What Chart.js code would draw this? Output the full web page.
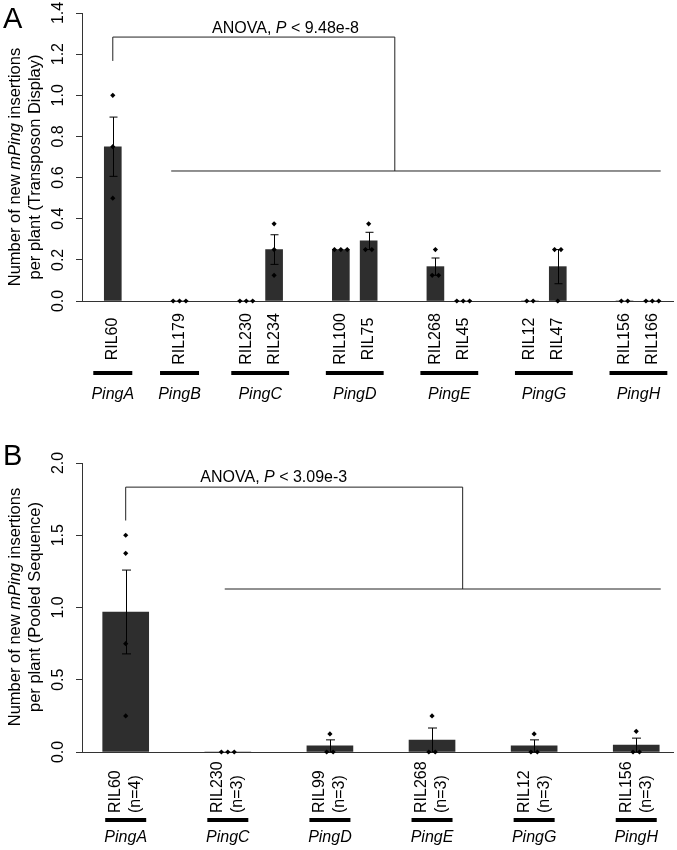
<!DOCTYPE html>
<html>
<head>
<meta charset="utf-8">
<script src="https://cdn.jsdelivr.net/npm/chart.js@4.4.1/dist/chart.umd.min.js"></script>
<style>
  body { margin: 0; background: #fff; }
  canvas { display: block; }
</style>
</head>
<body>
<canvas id="chartA" width="677" height="440" style="width:677px;height:440px"></canvas>
<canvas id="chartB" width="677" height="410" style="width:677px;height:410px"></canvas>
<script>
// Panel A - Transposon Display
var groupsA = ['PingA', 'PingB', 'PingC', 'PingD', 'PingE', 'PingG', 'PingH'];
var rilsA = [['RIL60'], ['RIL179'], ['RIL230', 'RIL234'], ['RIL100', 'RIL75'],
             ['RIL268', 'RIL45'], ['RIL12', 'RIL47'], ['RIL156', 'RIL166']];
var meanA = [0.75, 0, 0, 0.25, 0.25, 0.292, 0.167, 0, 0, 0.167, 0, 0];
var seA = [0.144, 0, 0, 0.072, 0, 0.042, 0.042, 0, 0, 0.083, 0, 0];
var plantsA = [[1, 0.75, 0.5], [0, 0, 0], [0, 0, 0], [0.375, 0.25, 0.125],
               [0.25, 0.25, 0.25], [0.375, 0.25, 0.25], [0.25, 0.125, 0.125], [0, 0, 0],
               [0, 0], [0.25, 0.25, 0], [0, 0], [0, 0, 0]];
var ticksA = [0, 0.2, 0.4, 0.6, 0.8, 1.0, 1.2, 1.4];

// Panel B - Pooled Sequence
var groupsB = ['PingA', 'PingC', 'PingD', 'PingE', 'PingG', 'PingH'];
var rilsB = ['RIL60', 'RIL230', 'RIL99', 'RIL268', 'RIL12', 'RIL156'];
var sizesB = ['(n=4)', '(n=3)', '(n=3)', '(n=3)', '(n=3)', '(n=3)'];
var meanB = [0.969, 0, 0.042, 0.083, 0.042, 0.048];
var seB = [0.29, 0, 0.042, 0.083, 0.042, 0.048];
var plantsB = [[1.5, 1.375, 0.75, 0.25], [0, 0, 0], [0.125, 0, 0], [0.25, 0, 0], [0.125, 0, 0], [0.143, 0, 0]];
var ticksB = [0, 0.5, 1.0, 1.5, 2.0];

var FONT = '"Liberation Sans", Arial, Helvetica, sans-serif';
Chart.defaults.font.family = FONT;
Chart.defaults.color = '#000';

// bar positions: 1 unit between members of a group, `gap` between groups
function groupPositions(groups, gap) {
  var pos = [], spans = [], p = -gap;
  groups.forEach(function (g) {
    p += gap;
    var start = p;
    g.forEach(function (r, i) { if (i) p += 1; pos.push(p); });
    spans.push([start, p]);
  });
  return { pos: pos, spans: spans };
}

// plants with the same value sit side by side
function dotPoints(pos, plants, step) {
  var pts = [];
  plants.forEach(function (vals, i) {
    var counts = {}, seen = {};
    vals.forEach(function (v) { counts[v] = (counts[v] || 0) + 1; });
    vals.forEach(function (v) {
      var k = counts[v], j = seen[v] || 0;
      seen[v] = j + 1;
      pts.push({ x: pos[i] + (j - (k - 1) / 2) * step, y: v });
    });
  });
  return pts;
}

function richText(ctx, parts, x, y, size) {
  var total = 0;
  parts.forEach(function (p) {
    ctx.font = (p[1] ? 'italic ' : '') + size + 'px ' + FONT;
    total += ctx.measureText(p[0]).width;
  });
  var cx = x - total / 2;
  ctx.textAlign = 'left';
  parts.forEach(function (p) {
    ctx.font = (p[1] ? 'italic ' : '') + size + 'px ' + FONT;
    ctx.fillText(p[0], cx, y);
    cx += ctx.measureText(p[0]).width;
  });
}

function decorations(p) {
  return {
    id: 'deco',
    afterDraw: function (chart) {
      var ctx = chart.ctx;
      var X = function (v) { return chart.scales.x.getPixelForValue(v); };
      var Y = function (v) { return chart.scales.y.getPixelForValue(v); };
      ctx.save();
      ctx.fillStyle = '#000';
      ctx.strokeStyle = '#000';
      ctx.lineWidth = 1;

      // error bars (mean +/- se)
      p.pos.forEach(function (x, i) {
        if (!p.se[i]) return;
        var px = Math.round(X(x)) + 0.5;
        var t = Y(p.mean[i] + p.se[i]), b = Y(p.mean[i] - p.se[i]);
        ctx.beginPath();
        ctx.moveTo(px, t); ctx.lineTo(px, b);
        ctx.moveTo(px - p.cap, t); ctx.lineTo(px + p.cap, t);
        ctx.moveTo(px - p.cap, b); ctx.lineTo(px + p.cap, b);
        ctx.stroke();
      });

      // ANOVA bracket
      var k = p.bracket;
      ctx.strokeStyle = '#222';
      ctx.beginPath();
      ctx.moveTo(X(k.x1), Y(k.y1));
      ctx.lineTo(X(k.x1), Y(k.top));
      ctx.lineTo(X(k.x2), Y(k.top));
      ctx.lineTo(X(k.x2), Y(k.y2));
      ctx.moveTo(X(k.base[0]), Y(k.y2));
      ctx.lineTo(X(k.base[1]), Y(k.y2));
      ctx.stroke();
      ctx.textBaseline = 'alphabetic';
      richText(ctx, [['ANOVA, ', 0], ['P', 1], [' < ' + k.label, 0]], X(k.textX), Y(k.textY), 16);

      // y axis title
      ctx.textBaseline = 'middle';
      p.yTitle.forEach(function (line, i) {
        ctx.save();
        ctx.translate(15 + i * 20, p.titleY);
        ctx.rotate(-Math.PI / 2);
        richText(ctx, line, 0, 0, p.titleSize);
        ctx.restore();
      });

      // category labels, group underlines and group names
      p.labels.forEach(function (lines, i) {
        var px = X(p.pos[i]);
        lines.forEach(function (txt, j) {
          ctx.save();
          ctx.translate(px + (j - (lines.length - 1) / 2) * 20, p.labelY);
          ctx.rotate(-Math.PI / 2);
          ctx.textAlign = p.labelAlign;
          ctx.font = '16px ' + FONT;
          ctx.fillText(txt, 0, 0);
          ctx.restore();
        });
      });
      p.spans.forEach(function (s, i) {
        var ext = s[0] === s[1] ? p.extSingle : p.extPair;
        var a = X(s[0]) - ext, b = X(s[1]) + ext;
        ctx.fillRect(a, p.lineY - 2, b - a, 4);
        ctx.font = 'italic 16px ' + FONT;
        ctx.textAlign = 'center';
        ctx.fillText(p.groups[i], (a + b) / 2, p.groupY);
      });

      // panel letter
      ctx.font = '29px ' + FONT;
      ctx.textAlign = 'left';
      ctx.textBaseline = 'alphabetic';
      ctx.fillText(p.letter, 3, p.letterY);
      ctx.restore();
    }
  };
}

function panel(id, p) {
  return new Chart(document.getElementById(id), {
    type: 'bar',
    data: {
      datasets: [{
        type: 'scatter',
        data: dotPoints(p.pos, p.plants, p.jitter),
        pointStyle: 'rectRot',
        radius: 2.6,
        backgroundColor: '#000',
        borderWidth: 0,
        clip: false,
        order: 1
      }, {
        data: p.pos.map(function (x, i) { return { x: x, y: p.mean[i] }; }),
        backgroundColor: '#2e2e2e',
        borderWidth: 0,
        barThickness: p.barWidth,
        order: 2
      }]
    },
    options: {
      responsive: false,
      animation: false,
      layout: { padding: { top: p.top, left: 0, right: 0, bottom: 0 } },
      plugins: { legend: { display: false }, tooltip: { enabled: false } },
      scales: {
        x: {
          type: 'linear', min: p.xMin, max: p.xMax, offset: false,
          afterFit: function (s) { s.height = p.axisH; s.paddingLeft = 0; s.paddingRight = 0; },
          border: { display: true, color: '#333', width: 1 },
          grid: { display: false, offset: false },
          ticks: { display: false }
        },
        y: {
          min: 0, max: p.ticks[p.ticks.length - 1],
          afterBuildTicks: function (s) { s.ticks = p.ticks.map(function (v) { return { value: v }; }); },
          afterFit: function (s) { s.width = 82; s.paddingTop = 0; s.paddingBottom = 0; },
          border: { display: true, color: '#333', width: 1 },
          grid: { display: true, drawOnChartArea: false, drawTicks: true, tickLength: 6, color: '#333' },
          ticks: {
            autoSkip: false, minRotation: 90, maxRotation: 90, crossAlign: 'center', padding: 6,
            color: '#000', font: { size: 16 },
            callback: function (v) { return Number(v).toFixed(1); }
          }
        }
      }
    },
    plugins: [decorations(p)]
  });
}

var layoutA = groupPositions(rilsA, 2.4);
panel('chartA', {
  pos: layoutA.pos, spans: layoutA.spans, groups: groupsA,
  labels: [].concat.apply([], rilsA).map(function (r) { return [r]; }),
  mean: meanA, se: seA, plants: plantsA, ticks: ticksA,
  xMin: -1.107, xMax: 20.143, top: 13, axisH: 139,
  barWidth: 17, jitter: 0.23, cap: 4,
  bracket: { x1: 0, x2: 10.14, top: 1.283, y1: 1.167, y2: 0.632, base: [2.1, 19.7],
             textX: 6.21, textY: 1.303, label: '9.48e-8' },
  yTitle: [[['Number of new ', 0], ['mPing', 1], [' insertions', 0]],
           [['per plant (Transposon Display)', 0]]],
  titleY: 167, titleSize: 16.5,
  labelY: 339, labelAlign: 'center', lineY: 373, groupY: 395,
  extSingle: 19.5, extPair: 15,
  letter: 'A', letterY: 28
});

var layoutB = groupPositions(rilsB.map(function (r) { return [r]; }), 1);
panel('chartB', {
  pos: layoutB.pos, spans: layoutB.spans, groups: groupsB,
  labels: rilsB.map(function (r, i) { return [r, sizesB[i]]; }),
  mean: meanB, se: seB, plants: plantsB, ticks: ticksB,
  xMin: -0.428, xMax: 5.36, top: 23, axisH: 98,
  barWidth: 46, jitter: 0.063, cap: 4.5,
  bracket: { x1: 0, x2: 3.3, top: 1.833, y1: 1.602, y2: 1.128, base: [0.97, 5.24],
             textX: 1.45, textY: 1.871, label: '3.09e-3' },
  yTitle: [[['Number of new ', 0], ['mPing', 1], [' insertions', 0]],
           [['per plant (Pooled Sequence)', 0]]],
  titleY: 167, titleSize: 16.5,
  labelY: 373, labelAlign: 'left', lineY: 380, groupY: 398,
  extSingle: 20.5, extPair: 20.5,
  letter: 'B', letterY: 25
});
</script>
</body>
</html>
